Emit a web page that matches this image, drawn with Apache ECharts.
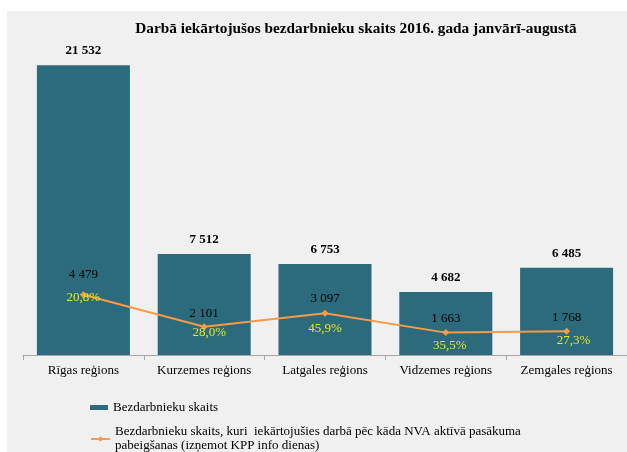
<!DOCTYPE html>
<html>
<head>
<meta charset="utf-8">
<script src="https://cdn.jsdelivr.net/npm/echarts@6/dist/echarts.min.js"></script>
<style>
  html, body { margin: 0; padding: 0; background: #fff; }
  #chart { width: 627px; height: 452px; }
</style>
</head>
<body>
<div id="chart"></div>
<script>
// data
var regions = ['Rīgas reģions', 'Kurzemes reģions', 'Latgales reģions', 'Vidzemes reģions', 'Zemgales reģions']
var totalUnemployed = [21532, 7512, 6753, 4682, 6485]
var employedAfterNva = [4479, 2101, 3097, 1663, 1768]
var employedShare = ['20,8%', '28,0%', '45,9%', '35,5%', '27,3%']

var barName = 'Bezdarbnieku skaits'
var lineName = 'Bezdarbnieku skaits, kuri  iekārtojušies darbā pēc kāda NVA aktīvā pasākuma pabeigšanas (izņemot KPP info dienas)'

// label nudges, like the hand-placed labels in the original
var valueOffsets = [[0, -20], [0, -13], [0, -15], [0, -14], [0, -14]]
var shareOffsets = [[0, 3], [5, 6], [0, 15], [4, 13], [7, 9]]

var serif = 'Liberation Serif'

function fmt (v) {
  return String(v).replace(/\B(?=(\d{3})+(?!\d))/g, ' ')
}

var chart = echarts.init(document.getElementById('chart'))
chart.setOption({
  backgroundColor: '#ffffff',
  animation: false,
  textStyle: { fontFamily: serif },
  graphic: [{
    type: 'rect',
    z: -10,
    shape: { x: 7, y: 11, width: 620, height: 441 },
    style: { fill: '#f0f0f0' }
  }],
  title: {
    text: 'Darbā iekārtojušos bezdarbnieku skaits 2016. gada janvārī-augustā',
    left: 351,
    textAlign: 'center',
    top: 17,
    textStyle: { fontFamily: serif, fontSize: 15.3, fontWeight: 'bold', color: '#000' }
  },
  legend: [{
    orient: 'vertical',
    left: 85,
    top: 396,
    itemWidth: 18,
    itemHeight: 5,
    data: [{ name: barName, icon: 'rect' }],
    textStyle: { fontFamily: serif, fontSize: 13, color: '#000' }
  }, {
    // the second line runs off the bottom edge, as in the original
    orient: 'vertical',
    left: 85,
    top: 425,
    padding: [0, 5, -12, 5],
    itemWidth: 19,
    itemHeight: 7,
    data: [lineName],
    formatter: function (name) {
      return name.replace(' pabeigšanas', '\npabeigšanas')
    },
    textStyle: { fontFamily: serif, fontSize: 13, color: '#000', lineHeight: 14 }
  }],
  grid: { left: 23, right: 0, top: 32, bottom: 97 },
  xAxis: {
    type: 'category',
    data: regions,
    axisLine: { lineStyle: { color: '#a6a6a6' } },
    axisTick: { show: true, length: 5, lineStyle: { color: '#a6a6a6' } },
    axisLabel: { interval: 0, fontFamily: serif, fontSize: 13, color: '#000', margin: 9 }
  },
  yAxis: {
    type: 'value',
    min: 0,
    max: 24000,
    show: false,
    splitLine: { show: false }
  },
  series: [{
    name: barName,
    type: 'bar',
    data: totalUnemployed,
    barCategoryGap: '23%',
    itemStyle: { color: '#2b6b7b' },
    label: {
      show: true,
      position: 'top',
      distance: 8,
      fontFamily: serif,
      fontSize: 13,
      fontWeight: 'bold',
      color: '#000',
      formatter: function (p) { return fmt(p.value) }
    }
  }, {
    name: lineName,
    type: 'line',
    z: 5,
    data: employedAfterNva.map(function (v, i) {
      return { value: v, label: { offset: valueOffsets[i] } }
    }),
    symbol: 'diamond',
    symbolSize: 7,
    itemStyle: { color: '#f79a4a' },
    lineStyle: { color: '#f79a4a', width: 2 },
    label: {
      show: true,
      position: 'inside',
      fontFamily: serif,
      fontSize: 13,
      color: '#000',
      formatter: function (p) { return fmt(p.value) }
    }
  }, {
    name: 'share',
    type: 'line',
    z: 6,
    silent: true,
    data: employedAfterNva.map(function (v, i) {
      return { value: v, label: { offset: shareOffsets[i] } }
    }),
    symbol: 'circle',
    symbolSize: 1,
    showSymbol: true,
    itemStyle: { color: 'rgba(0,0,0,0)' },
    lineStyle: { opacity: 0 },
    label: {
      show: true,
      position: 'inside',
      fontFamily: serif,
      fontSize: 13,
      color: '#e6e62c',
      formatter: function (p) { return employedShare[p.dataIndex] }
    }
  }]
})
</script>
</body>
</html>
